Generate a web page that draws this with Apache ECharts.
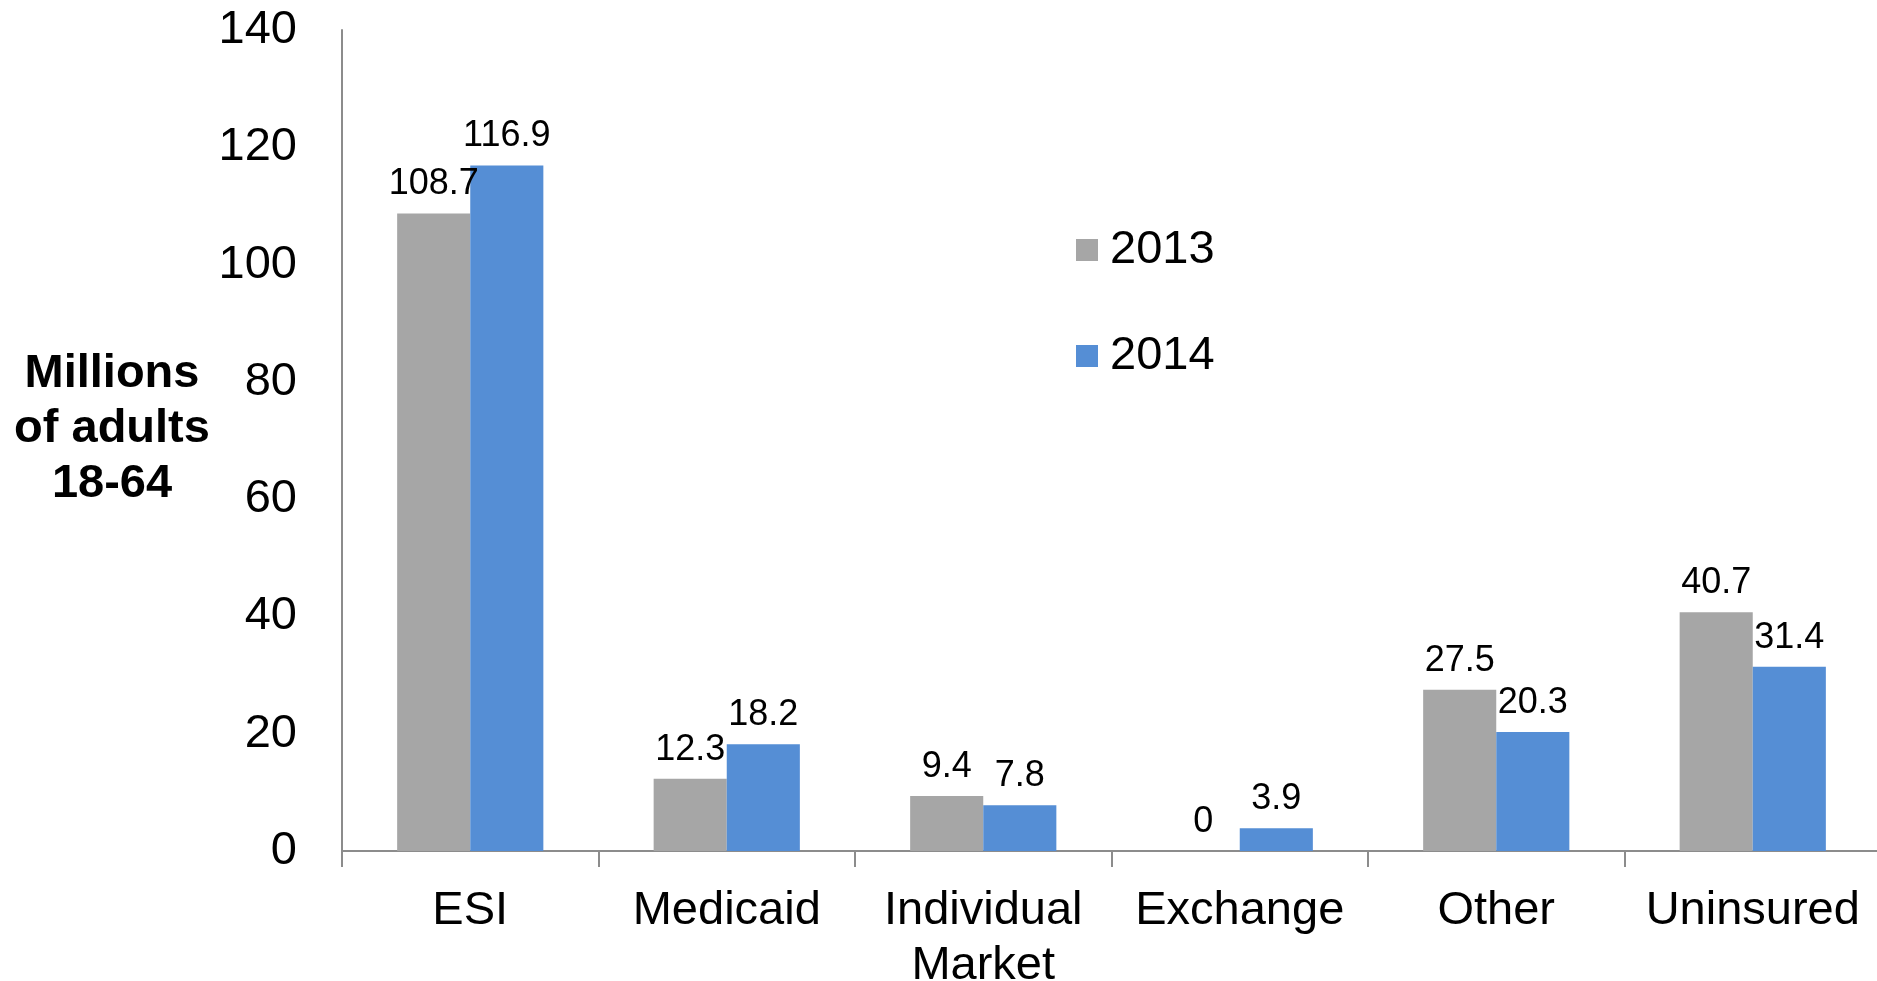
<!DOCTYPE html>
<html>
<head>
<meta charset="utf-8">
<script src="https://cdn.jsdelivr.net/npm/echarts@6/dist/echarts.min.js"></script>
<style>
  html, body { margin: 0; padding: 0; background: #fff; }
  #chart { width: 1877px; height: 981px; }
</style>
</head>
<body>
<div id="chart"></div>
<script>
// Coverage categories and enrollment (millions of adults 18-64)
const categories = ['ESI', 'Medicaid', 'Individual\nMarket', 'Exchange', 'Other', 'Uninsured'];
const values2013 = [108.7, 12.3, 9.4, 0, 27.5, 40.7];
const values2014 = [116.9, 18.2, 7.8, 3.9, 20.3, 31.4];
const seriesNames = ['2013', '2014'];
const yTicks = { min: 0, max: 140, interval: 20 };

const FONT = '"Liberation Sans", Arial, sans-serif';
const GRAY = '#A6A6A6';
const BLUE = '#558ED5';
const AXIS = '#8C8C8C';

const chart = echarts.init(document.getElementById('chart'), null, { renderer: 'canvas' });

const labelStyle = {
  show: true,
  position: 'top',
  distance: 11,
  color: '#000',
  fontFamily: FONT,
  fontSize: 36
};

chart.setOption({
  animation: false,
  backgroundColor: '#fff',
  grid: { left: 342, top: 30, width: 1539, height: 821, containLabel: false, outerBoundsMode: 'none' },
  legend: {
    orient: 'vertical',
    left: 1071,
    top: 220,
    icon: 'rect',
    itemWidth: 22,
    itemHeight: 22,
    itemGap: 56,
    data: seriesNames,
    textStyle: { fontFamily: FONT, fontSize: 47, color: '#000', lineHeight: 50, padding: [0, 0, 0, 7] }
  },
  xAxis: {
    type: 'category',
    data: categories,
    axisLine: { lineStyle: { color: AXIS, width: 2 } },
    axisTick: { show: true, length: 16, lineStyle: { color: AXIS, width: 2 } },
    axisLabel: { interval: 0, fontFamily: FONT, fontSize: 47, color: '#000', margin: 33, lineHeight: 55 }
  },
  yAxis: {
    type: 'value',
    min: yTicks.min,
    max: yTicks.max,
    interval: yTicks.interval,
    axisLine: { show: true, lineStyle: { color: AXIS, width: 2 } },
    axisTick: { show: false },
    splitLine: { show: false },
    axisLabel: { fontFamily: FONT, fontSize: 47, color: '#000', margin: 45 }
  },
  graphic: [{
    type: 'text',
    style: {
      x: 112,
      y: 429,
      text: 'Millions\nof adults\n18-64',
      fontFamily: FONT,
      fontSize: 47,
      fontWeight: 'bold',
      lineHeight: 55,
      fill: '#000',
      align: 'center',
      verticalAlign: 'middle'
    }
  }],
  series: [
    {
      name: seriesNames[0],
      type: 'bar',
      data: values2013,
      barWidth: '28.5%',
      barGap: '0%',
      itemStyle: { color: GRAY },
      label: labelStyle
    },
    {
      name: seriesNames[1],
      type: 'bar',
      data: values2014,
      barWidth: '28.5%',
      itemStyle: { color: BLUE },
      label: labelStyle
    }
  ]
});
</script>
</body>
</html>
